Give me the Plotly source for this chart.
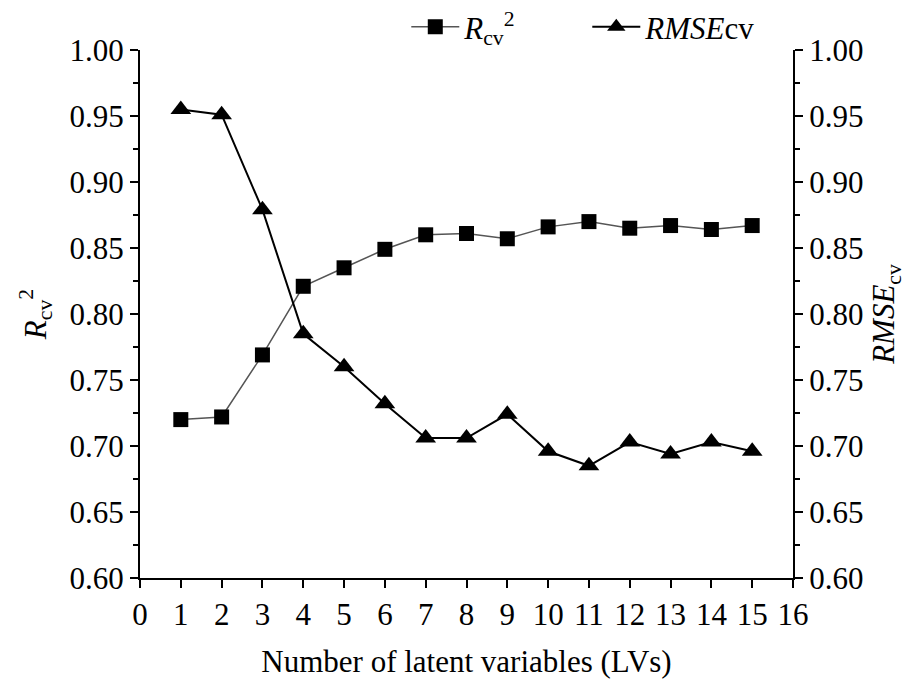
import plotly.graph_objects as go

lvs = list(range(1, 16))
r2cv = [0.720, 0.722, 0.769, 0.821, 0.835, 0.849, 0.860, 0.861, 0.857, 0.866, 0.870, 0.865, 0.867, 0.864, 0.867]
rmsecv = [0.955, 0.951, 0.879, 0.785, 0.760, 0.732, 0.706, 0.706, 0.724, 0.696, 0.685, 0.703, 0.694, 0.703, 0.696]
yticks = [0.60, 0.65, 0.70, 0.75, 0.80, 0.85, 0.90, 0.95, 1.00]
xticks = list(range(0, 17))

FONT = "Liberation Serif"
FS = 31

fig = go.Figure()
fig.add_trace(go.Scatter(
    x=lvs, y=r2cv, mode="lines+markers",
    name="<i>R</i><sub>cv</sub><sup>2</sup>",
    line=dict(color="#555555", width=1.5),
    marker=dict(symbol="square", size=15, color="black"),
))
fig.add_trace(go.Scatter(
    x=lvs, y=rmsecv, mode="lines+markers", yaxis="y2",
    name="<i>RMSE</i>cv",
    line=dict(color="black", width=2),
    marker=dict(symbol="triangle-up", size=18, color="black"),
))

axis_common = dict(
    showline=True, linecolor="black", linewidth=2,
    ticks="outside", ticklen=8, tickwidth=2, tickcolor="black",
    showgrid=False, zeroline=False,
    tickfont=dict(family=FONT, size=FS, color="black"),
)

fig.update_layout(
    width=913, height=679,
    margin=dict(l=140, r=120, t=50, b=101, autoexpand=False),
    paper_bgcolor="white", plot_bgcolor="white",
    font=dict(family=FONT, color="black"),
    xaxis=dict(
        range=[0, 16], tickvals=xticks, ticktext=[str(t) for t in xticks],
        title=dict(text="Number of latent variables (LVs)", font=dict(family=FONT, size=FS), standoff=26),
        **axis_common,
    ),
    yaxis=dict(
        range=[0.60, 1.00], tickvals=yticks, ticktext=[f"{t:.2f}" for t in yticks],
        minor=dict(ticks="outside", ticklen=5, tickwidth=2, tickcolor="black", dtick=0.025),
        title=dict(text="<i>R</i><sub>cv</sub><sup>2</sup>", font=dict(family=FONT, size=FS), standoff=14),
        **axis_common,
    ),
    yaxis2=dict(
        range=[0.60, 1.00], tickvals=yticks, ticktext=[f"{t:.2f}" for t in yticks],
        overlaying="y", side="right",
        minor=dict(ticks="outside", ticklen=5, tickwidth=2, tickcolor="black", dtick=0.025),
        title=dict(text="<i>RMSE</i><sub>cv</sub>", font=dict(family=FONT, size=FS), standoff=10),
        **axis_common,
    ),
    legend=dict(
        orientation="h", x=0.445, y=1.0, xref="container", yref="container",
        xanchor="left", yanchor="top",
        font=dict(family=FONT, size=FS), bgcolor="rgba(0,0,0,0)",
        itemwidth=48, entrywidth=118, entrywidthmode="pixels",
    ),
    showlegend=True,
)

fig.write_html("out.html")
